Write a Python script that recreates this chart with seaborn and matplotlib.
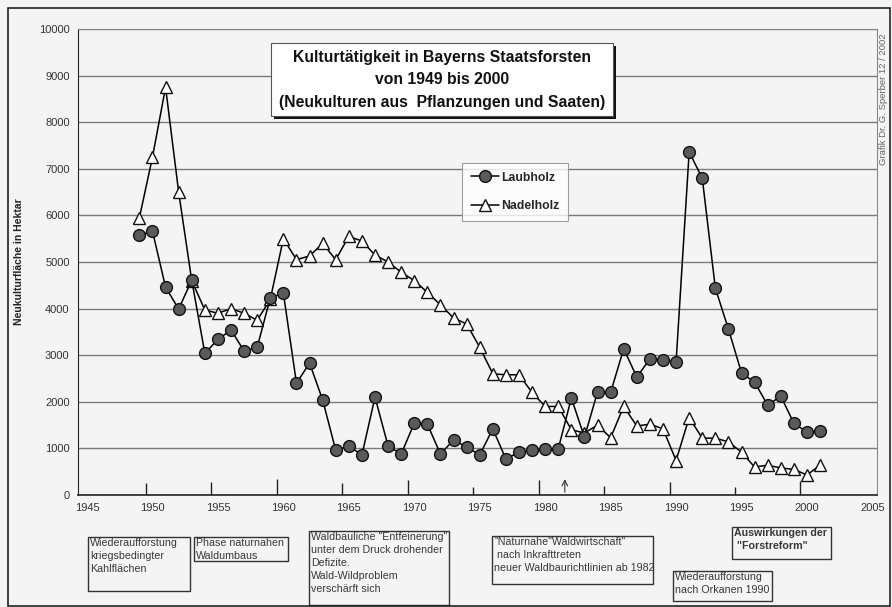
import matplotlib
matplotlib.use("Agg")
import matplotlib.pyplot as plt
import seaborn as sns
import pandas as pd
from matplotlib.patches import Rectangle

# Kulturtaetigkeit in Bayerns Staatsforsten 1949-2001 (ha)
jahre = list(range(1949, 2002))
laubholz = [5580, 5660, 4460, 3990, 4610, 3040, 3340, 3540, 3090, 3170,
            4230, 4330, 2400, 2830, 2040, 960, 1050, 860, 2100, 1050,
            880, 1540, 1520, 880, 1180, 1030, 860, 1420, 770, 920,
            960, 990, 990, 2080, 1240, 2210, 2200, 3140, 2530, 2920,
            2900, 2850, 7360, 6800, 4440, 3560, 2620, 2420, 1930, 2120,
            1540, 1350, 1370]
nadelholz = [5950, 7250, 8750, 6500, 4600, 3970, 3900, 4000, 3900, 3750,
             4200, 5500, 5050, 5130, 5400, 5050, 5550, 5450, 5150, 5000,
             4780, 4600, 4350, 4080, 3800, 3670, 3170, 2600, 2580, 2580,
             2200, 1900, 1900, 1400, 1330, 1500, 1230, 1900, 1480, 1520,
             1420, 740, 1660, 1220, 1220, 1140, 920, 600, 640, 580,
             550, 430, 640]

# handgezeichnete Phasenmarken an der x-Achse
marken_x = [1949.5, 1954.5, 1959.5, 1964.5, 1969.5, 1974.5, 1979.5,
            1984.5, 1989.5, 1994.5, 1999.5]
marken_h = [250, 280, 350, 250, 320, 180, 330, 190, 280, 170, 300]

titel = ("Kulturtätigkeit in Bayerns Staatsforsten\n"
         "von 1949 bis 2000\n"
         "(Neukulturen aus  Pflanzungen und Saaten)")

phasen = [
    ("Wiederaufforstung\nkriegsbedingter\nKahlflächen", (88, 537, 190, 591), "normal"),
    ("Phase naturnahen\nWaldumbaus", (194, 537, 288, 561), "normal"),
    ("Waldbauliche \"Entfeinerung\"\nunter dem Druck drohender\nDefizite.\n"
     "Wald-Wildproblem\nverschärft sich", (309, 531, 449, 605), "normal"),
    ("\"Naturnahe\"Waldwirtschaft\"\n nach Inkrafttreten\nneuer Waldbaurichtlinien ab 1982",
     (492, 536, 653, 584), "normal"),
    ("Wiederaufforstung\nnach Orkanen 1990", (673, 571, 772, 601), "normal"),
    ("Auswirkungen der\n \"Forstreform\"", (732, 527, 831, 559), "bold"),
]

df = pd.DataFrame({"Jahr": jahre, "Laubholz": laubholz, "Nadelholz": nadelholz})

sns.set_style("white")
plt.rcParams["font.family"] = ["Liberation Sans", "DejaVu Sans"]

W, H = 892, 607
bg = "#f4f4f4"
fig = plt.figure(figsize=(W / 100, H / 100), dpi=100, facecolor=bg)
ax = fig.add_axes([78 / W, 1 - 495 / H, (877 - 78) / W, (495 - 29) / H])
ax.set_facecolor(bg)


def fx(px):
    return px / W


def fy(py):
    return 1 - py / H


sns.lineplot(data=df, x="Jahr", y="Laubholz", ax=ax, color="black", lw=1.1,
             marker="o", markersize=8.5, markerfacecolor="#5a5a5a",
             markeredgecolor="#111111", markeredgewidth=1.0, label="Laubholz", zorder=4)
sns.lineplot(data=df, x="Jahr", y="Nadelholz", ax=ax, color="black", lw=1.1,
             marker="^", markersize=9, markerfacecolor="white",
             markeredgecolor="#111111", markeredgewidth=1.0, label="Nadelholz", zorder=3)

ax.vlines(marken_x, 0, marken_h, color="#222222", lw=1.0, zorder=2)
ax.annotate("", xy=(1981.5, 400), xytext=(1981.5, 0),
            arrowprops=dict(arrowstyle="->", color="#333333", lw=0.8))

ax.set_xlim(1944.31, 2005.35)
ax.set_ylim(0, 10000)
ax.set_xticks(range(1945, 2006, 5))
ax.set_xticks(range(1945, 2006), minor=True)
ax.set_yticks(range(0, 10001, 1000))
ax.tick_params(axis="x", which="major", direction="out", length=4, labelsize=8,
               color="#333333", pad=2, labelcolor="#333333")
ax.tick_params(axis="x", which="minor", direction="out", length=3, color="#555555")
ax.tick_params(axis="y", direction="out", length=4, labelsize=8, pad=2,
               color="#333333", labelcolor="#333333")
ax.grid(axis="y", color="#7a7a7a", lw=1.0)
ax.set_axisbelow(True)
ax.set_xlabel("")
ax.set_ylabel("")

ax.spines["left"].set_color("#222222")
ax.spines["bottom"].set_color("#222222")
ax.spines["bottom"].set_linewidth(1.2)
ax.spines["top"].set_color("#888888")
ax.spines["right"].set_color("#888888")

fig.text(fx(19), fy(262), "Neukulturfläche in Hektar", rotation=90, ha="center",
         va="center", fontsize=7.5, fontweight="bold", color="#222222")
fig.text(fx(884), fy(99), "Grafik Dr. G. Sperber 12 / 2002", rotation=90, ha="center",
         va="center", fontsize=6.8, color="#666666")

leg = ax.legend(loc="upper left", bbox_to_anchor=((462 - 78) / 799, (495 - 163) / 466),
                frameon=True, fancybox=False, edgecolor="#888888", facecolor="white",
                prop={"weight": "bold", "size": 8.8}, handlelength=2.3,
                labelspacing=1.35, borderpad=0.7, handletextpad=0.2, borderaxespad=0)
leg.get_frame().set_linewidth(0.8)

# Titelkasten mit Schatten
fig.add_artist(Rectangle((fx(274), fy(119)), fx(613 - 271), (116 - 43) / H,
                         transform=fig.transFigure, facecolor="#111111", edgecolor="none", zorder=5))
fig.add_artist(Rectangle((fx(271), fy(116)), fx(613 - 271), (116 - 43) / H,
                         transform=fig.transFigure, facecolor="white", edgecolor="#555555",
                         lw=0.8, zorder=6))
fig.text(fx(442), fy(80), titel, ha="center", va="center", fontsize=11.3,
         fontweight="bold", linespacing=1.6, color="#111111", zorder=7)

for text, (x0, y0, x1, y1), fw in phasen:
    fig.add_artist(Rectangle((fx(x0), fy(y1)), fx(x1 - x0), (y1 - y0) / H,
                             transform=fig.transFigure, facecolor="none",
                             edgecolor="#333333", lw=1.0))
    fig.text(fx(x0 + 2), fy(y0 + 1), text, ha="left", va="top", fontsize=7.7,
             fontweight=fw, linespacing=1.38, color="#383838")

# Rahmen um die gesamte Grafik
fig.add_artist(Rectangle((fx(8), fy(606)), fx(890 - 8), (606 - 8) / H,
                         transform=fig.transFigure, facecolor="none",
                         edgecolor="#222222", lw=1.2))

fig.savefig("out.png", dpi=100, facecolor=bg)
